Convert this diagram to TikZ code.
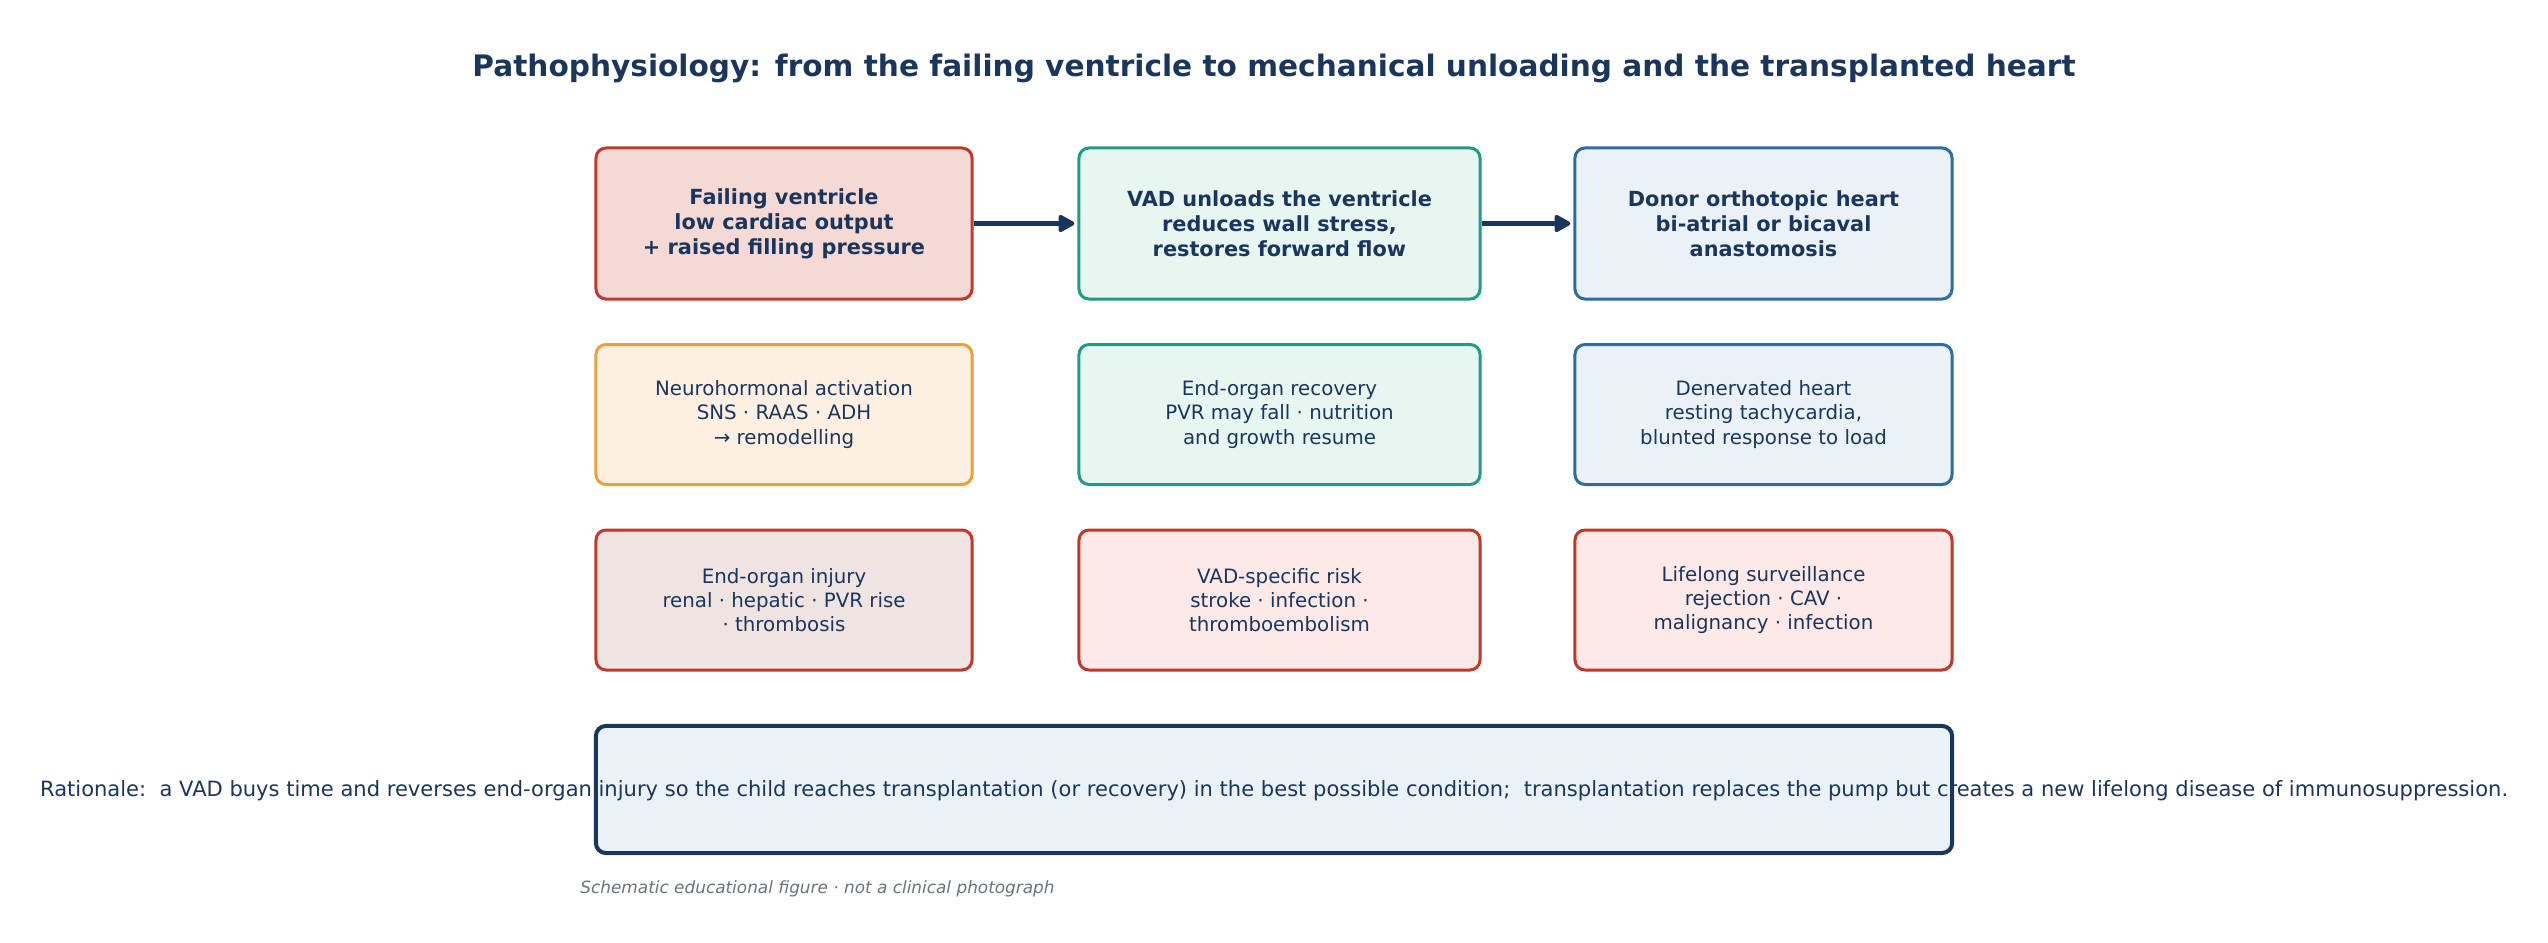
\documentclass[tikz,border=0pt]{standalone}
\usepackage{fontspec}
\setmainfont{DejaVu Sans}
\usetikzlibrary{arrows.meta}
\definecolor{navy}{HTML}{1B365D}
\definecolor{redb}{HTML}{C0392B}
\definecolor{redf}{HTML}{F5D9D5}
\definecolor{injf}{HTML}{F0E4E3}
\definecolor{riskf}{HTML}{FCE9E8}
\definecolor{tealb}{HTML}{1F9C86}
\definecolor{tealf}{HTML}{E8F6F2}
\definecolor{blueb}{HTML}{2E6DA4}
\definecolor{bluef}{HTML}{EAF2F8}
\definecolor{orangeb}{HTML}{E9A23B}
\definecolor{orangef}{HTML}{FDF0E2}
\definecolor{footgray}{HTML}{6B7280}
\tikzset{
  x=0.48pt, y=-0.48pt,
  box/.style={draw, rounded corners=4.8pt, line width=1.44pt, inner sep=0pt, text=navy, align=center},
  toprow/.style={box, minimum height=72.5pt, font=\bfseries\fontsize{10}{12}\selectfont},
  lowrow/.style={box, minimum height=67.2pt, font=\fontsize{9.5}{11.7}\selectfont},
  wA/.style={minimum width=180.5pt},
  wB/.style={minimum width=192.5pt},
  wC/.style={minimum width=181pt},
  flow/.style={draw=navy, line width=2pt, line join=round, -{Triangle[length=8.8pt,width=9pt,round]}, shorten >=1.5pt},
}
\begin{document}
\begin{tikzpicture}
\useasboundingbox[fill=white] (0,0) rectangle (2548,942);
\node[font=\bfseries\fontsize{14.2}{16}\selectfont, text=navy] (title) at (1274,68) {Pathophysiology: from the failing ventricle to mechanical unloading and the transplanted heart};
% row 1
\node[toprow, wA, draw=redb, fill=redf] (a1) at (784,223.5) {Failing ventricle\\low cardiac output\\+ raised filling pressure};
\node[toprow, wB, draw=tealb, fill=tealf] (a2) at (1279.5,223.5) {VAD unloads the ventricle\\reduces wall stress,\\restores forward flow};
\node[toprow, wC, draw=blueb, fill=bluef] (a3) at (1763.5,223.5) {Donor orthotopic heart\\bi-atrial or bicaval\\anastomosis};
% row 2
\node[lowrow, wA, draw=orangeb, fill=orangef] (b1) at (784,414.5) {Neurohormonal activation\\SNS · RAAS · ADH\\→ remodelling};
\node[lowrow, wB, draw=tealb, fill=tealf] (b2) at (1279.5,414.5) {End-organ recovery\\PVR may fall · nutrition\\and growth resume};
\node[lowrow, wC, draw=blueb, fill=bluef] (b3) at (1763.5,414.5) {Denervated heart\\resting tachycardia,\\blunted response to load};
% row 3
\node[lowrow, wA, draw=redb, fill=injf] (c1) at (784,600) {End-organ injury\\renal · hepatic · PVR rise\\· thrombosis};
\node[lowrow, wB, draw=redb, fill=riskf] (c2) at (1279.5,600) {VAD-specific risk\\stroke · infection ·\\thromboembolism};
\node[lowrow, wC, draw=redb, fill=riskf] (c3) at (1763.5,600) {Lifelong surveillance\\rejection · CAV ·\\malignancy · infection};
% bottom
\node[box, draw=navy, fill=bluef, line width=1.92pt, minimum width=651pt, minimum height=61pt] (bottom) at (1274,789.5) {};
\node[text=navy, font=\fontsize{10.1}{12}\selectfont, inner sep=0pt] (rationale) at (1274,791) {Rationale:\ \ a VAD buys time and reverses end-organ injury so the child reaches transplantation (or recovery) in the best possible condition;\ \ transplantation replaces the pump but creates a new lifelong disease of immunosuppression.};
\node[anchor=west, text=footgray, font=\itshape\fontsize{8.1}{9.5}\selectfont, inner sep=0pt] (foot) at (580,889) {Schematic educational figure · not a clinical photograph};
% arrows
\draw[flow] (a1.east) -- (a2.west);
\draw[flow] (a2.east) -- (a3.west);
\end{tikzpicture}
\end{document}
